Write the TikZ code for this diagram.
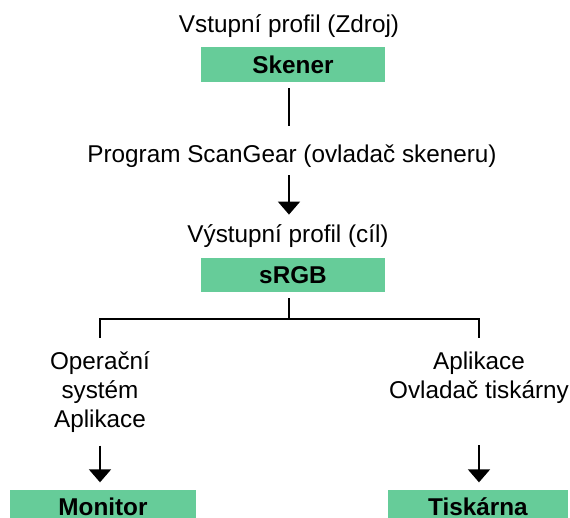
\documentclass[tikz,border=0pt]{standalone}
\usepackage{fontspec}
\setmainfont{Liberation Sans}
\definecolor{boxgreen}{RGB}{102,204,153}
\usetikzlibrary{arrows.meta}

\begin{document}
\begin{tikzpicture}[
    txt/.style={font=\fontsize{12.15pt}{14.6pt}\selectfont, align=center, inner sep=0pt},
    oneline/.style={txt, text height=9pt, text depth=2.5pt},
    box/.style={fill=boxgreen, inner sep=0pt,
                font=\fontsize{12.15pt}{14.6pt}\selectfont\bfseries,
                text height=8.7pt, text depth=0pt, minimum height=17.25pt},
    wire/.style={black, line width=0.9pt},
    arr/.style={wire, -{Triangle[width=11pt,length=6.5pt]}}
  ]
    \path[use as bounding box, clip] (0,0) rectangle (285pt,-259pt);

    \node[oneline, anchor=base] (zdroj)    at (144.5pt,-16.5pt)  {Vstupní profil (Zdroj)};
    \node[box, minimum width=92pt] (skener) at (146.5pt,-32.25pt) {Skener};
    \node[oneline, anchor=base] (scangear) at (146pt,-81.5pt)    {Program ScanGear (ovladač skeneru)};
    \node[oneline, anchor=base] (vystup)   at (144pt,-121.5pt)   {Výstupní profil (cíl)};
    \node[box, minimum width=92pt] (srgb)   at (146.5pt,-137.5pt) {sRGB};
    \node[txt, anchor=north]    (os)       at (50pt,-175.5pt)    {Operační\\systém\\Aplikace};
    \node[txt, anchor=north]    (drv)      at (239.5pt,-175.5pt) {Aplikace\\Ovladač tiskárny};
    \node[box, minimum width=93pt] (monitor)  at (51.5pt,-253.5pt) {Monitor};
    \node[box, minimum width=90pt] (tiskarna) at (239pt,-253.5pt)  {Tiskárna};

    \coordinate (axis)  at (144.5pt,0pt);
    \coordinate (split) at (144.5pt,-159.5pt);

    \draw[wire, shorten <=3.1pt, shorten >=9.5pt] (skener.south -| axis) -- (scangear.north -| axis);
    \draw[arr, shorten <=3.5pt, shorten >=5pt] (scangear.south -| axis) -- (vystup.north -| axis);
    \draw[wire, shorten <=2.9pt] (srgb.south -| axis) -- (split);
    \draw[wire] ([yshift=6.5pt]os.north) |- (split) -| ([yshift=6.5pt]drv.north);
    \draw[arr, shorten <=6.2pt, shorten >=3.5pt] (os.south) -- (os.south |- monitor.north);
    \draw[arr, shorten <=20.8pt, shorten >=3.5pt] (drv.south) -- (drv.south |- tiskarna.north);
  \end{tikzpicture}
\end{document}
